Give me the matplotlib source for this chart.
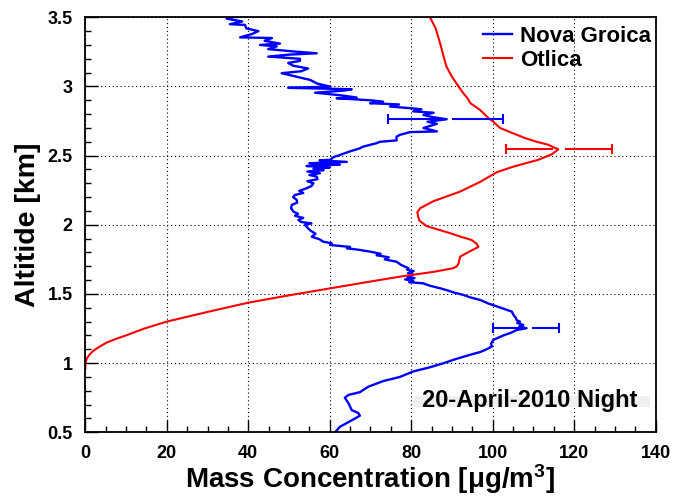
import matplotlib
matplotlib.use("Agg")
import matplotlib.pyplot as plt
from matplotlib.patches import Rectangle

plt.rcParams['font.family'] = ['Liberation Sans', 'DejaVu Sans']
plt.rcParams['font.weight'] = 'bold'
plt.rcParams['mathtext.fontset'] = 'custom'
plt.rcParams['mathtext.rm'] = 'Liberation Sans:bold'
plt.rcParams['mathtext.it'] = 'Liberation Sans:bold'
plt.rcParams['mathtext.bf'] = 'Liberation Sans:bold'

# Nova Groica profile (altitude km, mass concentration)
nova_alt = [0.50, 0.54, 0.58, 0.62, 0.64, 0.66, 0.71, 0.75, 0.77, 0.79, 0.83, 0.87, 0.90, 0.94, 0.97,
            1.00, 1.03, 1.06, 1.08, 1.10, 1.12, 1.14, 1.167, 1.20, 1.22, 1.24, 1.252, 1.265, 1.276, 1.29,
            1.30, 1.31, 1.33, 1.348, 1.372, 1.39, 1.41, 1.43, 1.457, 1.475, 1.493, 1.51, 1.525, 1.541, 1.56,
            1.577, 1.585, 1.595, 1.605, 1.615, 1.625, 1.64, 1.65, 1.665, 1.675, 1.686, 1.71, 1.733, 1.75,
            1.765, 1.78, 1.79, 1.806, 1.82, 1.83, 1.84, 1.854, 1.866, 1.878, 1.895, 1.914, 1.935, 1.96,
            1.98, 1.999, 2.01, 2.02, 2.035, 2.05, 2.065, 2.08, 2.095, 2.12, 2.144, 2.16, 2.18, 2.20, 2.216,
            2.23, 2.245, 2.264, 2.28, 2.30, 2.315, 2.33, 2.348, 2.36, 2.373, 2.385, 2.395, 2.405, 2.415,
            2.425, 2.435, 2.445, 2.455, 2.465, 2.47, 2.49, 2.505, 2.53, 2.553, 2.565, 2.59, 2.60, 2.61,
            2.637, 2.65, 2.67, 2.675, 2.70, 2.73, 2.745, 2.763, 2.78, 2.794, 2.81, 2.82, 2.835, 2.843,
            2.855, 2.87, 2.879, 2.89, 2.90, 2.915, 2.92, 2.935, 2.955, 2.97, 2.98, 2.99, 2.999, 3.02,
            3.047, 3.07, 3.096, 3.11, 3.13, 3.15, 3.17, 3.185, 3.20, 3.216, 3.23, 3.24, 3.252, 3.27,
            3.29, 3.30, 3.31, 3.33, 3.35, 3.355, 3.38, 3.40, 3.42, 3.445, 3.45, 3.47, 3.49, 3.50, 3.51]
nova_conc = [61.3, 62.5, 65.0, 67.4, 67.0, 65.4, 64.6, 63.7, 64.6, 67.4, 69.5, 73.1, 77.2, 80.5, 84.6,
             88.0, 91.0, 94.4, 96.9, 98.5, 99.8, 99.6, 100.1, 102.6, 104.5, 105.9, 108.3, 106.5, 107.5, 106.0,
             106.7, 105.9, 105.6, 105.1, 104.7, 103.0, 101.0, 99.0, 96.9, 94.5, 92.8, 90.5, 89.0, 87.1, 84.5,
             82.9, 79.5, 80.5, 78.5, 80.8, 79.0, 80.5, 79.2, 80.6, 79.0, 79.3, 77.5, 76.4, 73.5,
             74.5, 71.5, 72.5, 69.9, 67.0, 64.2, 65.0, 60.1, 60.5, 58.4, 57.5, 55.6, 56.5, 55.2,
             54.5, 53.9, 55.5, 53.0, 52.3, 53.5, 51.5, 52.2, 51.1, 50.5, 50.7, 52.0, 51.9, 51.0, 51.5,
             53.5, 52.5, 54.3, 55.5, 56.0, 54.5, 57.0, 56.8, 55.0, 57.6, 54.5, 58.5, 56.0, 60.0,
             54.3, 62.5, 55.0, 64.2, 57.5, 60.1, 61.0, 62.5, 64.9, 67.4, 68.2, 71.5, 72.3, 76.4,
             76.4, 77.2, 79.7, 86.3, 83.0, 86.3, 84.0, 88.7, 85.0, 83.0, 85.5, 80.5, 82.5, 79.7,
             74.8, 77.0, 69.9, 73.1, 70.0, 61.7, 66.6, 63.0, 56.4, 63.5, 65.4, 49.8, 60.1, 57.0,
             55.2, 51.9, 48.2, 53.0, 54.7, 51.0, 49.8, 52.7, 52.7, 44.9, 50.0, 56.8, 51.5, 44.9,
             47.0, 42.9, 47.8, 44.0, 45.8, 38.0, 41.0, 42.5, 39.5, 39.2, 35.5, 38.5, 34.7, 35.0, 44.5]

# Otlica profile
otl_alt = [0.96, 0.99, 1.03, 1.06, 1.09, 1.115, 1.148, 1.175, 1.20, 1.25, 1.30, 1.37, 1.437, 1.49,
           1.54, 1.59, 1.625, 1.66, 1.686, 1.70, 1.72, 1.77, 1.81, 1.84, 1.865, 1.89, 1.915, 1.94,
           1.99, 2.03, 2.06, 2.09, 2.12, 2.17, 2.24, 2.31, 2.38, 2.42, 2.47, 2.51, 2.545, 2.58, 2.60,
           2.626, 2.66, 2.70, 2.746, 2.77, 2.83, 2.88, 2.915, 2.95, 3.00, 3.07, 3.14, 3.21, 3.29,
           3.36, 3.42, 3.50]
otl_conc = [0.0, 0.05, 0.3, 1.0, 2.0, 3.3, 5.2, 7.5, 10.0, 14.5, 20.0, 30.0, 40.0, 50.0,
            60.0, 70.0, 77.2, 85.5, 90.3, 91.2, 91.6, 92.0, 94.5, 96.5, 96.0, 94.8, 92.0, 89.5,
            83.8, 82.0, 81.7, 81.5, 82.2, 85.4, 92.0, 96.9, 101.0, 105.0, 111.2, 114.5, 116.1, 113.5, 110.8,
            108.0, 105.1, 101.8, 100.1, 99.0, 96.9, 94.5, 93.8, 92.8, 91.6, 90.0, 88.7, 88.0, 87.3,
            86.6, 86.0, 84.6]

# error bars: centre, altitude, half width
nova_err_x = [88.4, 108.1]
nova_err_y = [2.763, 1.252]
nova_err_dx = [14.0, 8.05]
otl_err_x = [116.2]
otl_err_y = [2.545]
otl_err_dx = [13.0]

fig = plt.figure(figsize=(6.73, 4.97), dpi=100)
ax = fig.add_axes([0.1267, 0.1302, 0.8476, 0.8350])

ax.plot(nova_conc, nova_alt, color='#0000ff', lw=1.7, label='Nova Groica')
ax.plot(otl_conc, otl_alt, color='#ff0000', lw=1.5, label='Otlica')

gap = 1.5
def draw_err(xs, ys, dxs, col):
    for x, y, dx in zip(xs, ys, dxs):
        ax.hlines(y, x - dx, x - gap, color=col, lw=1.5)
        ax.hlines(y, x + gap, x + dx, color=col, lw=1.5)
        ax.plot([x - dx, x + dx], [y, y], ls='none', marker='|', ms=7.5, mew=1.5, color=col)

draw_err(nova_err_x, nova_err_y, nova_err_dx, '#0000ff')
draw_err(otl_err_x, otl_err_y, otl_err_dx, '#ff0000')

ax.set_xlim(0, 140)
ax.set_ylim(0.5, 3.5)
ax.set_xticks(range(0, 141, 20))
ax.set_xticks(range(0, 141, 5), minor=True)
ax.set_yticks([0.5, 1, 1.5, 2, 2.5, 3, 3.5])
ax.set_yticklabels(['0.5', '1', '1.5', '2', '2.5', '3', '3.5'])
ax.set_yticks([0.5 + 0.1 * i for i in range(31)], minor=True)
ax.tick_params(which='both', direction='in', labelsize=13, width=1)
ax.tick_params(which='major', length=9, pad=9)
ax.tick_params(which='minor', length=4.5)
ax.grid(True, which='major', color='k', ls=(0, (1, 2.5)), lw=0.8)
for s in ax.spines.values():
    s.set_linewidth(1.3)

ax.set_xlabel('Mass Concentration [μg/m$^{3}$]', fontsize=20, fontweight='bold', labelpad=0)
ax.set_ylabel('Altitide [km]', fontsize=20.5, fontweight='bold', labelpad=4.5)

ax.legend(loc='upper left', bbox_to_anchor=(0.698, 0.98), frameon=False, fontsize=16,
          handlelength=1.3, handletextpad=0.35, labelspacing=0.15, borderpad=0, borderaxespad=0)

ax.add_patch(Rectangle((0.575, 0.0617), 0.415, 0.0265, transform=ax.transAxes,
                       facecolor='#f0f0f0', edgecolor='none', zorder=3))
ax.text(0.59, 0.0617, '20-April-2010 Night', transform=ax.transAxes, fontsize=17,
        fontweight='bold', va='baseline', ha='left', zorder=4)

fig.savefig('out.png', dpi=100)
